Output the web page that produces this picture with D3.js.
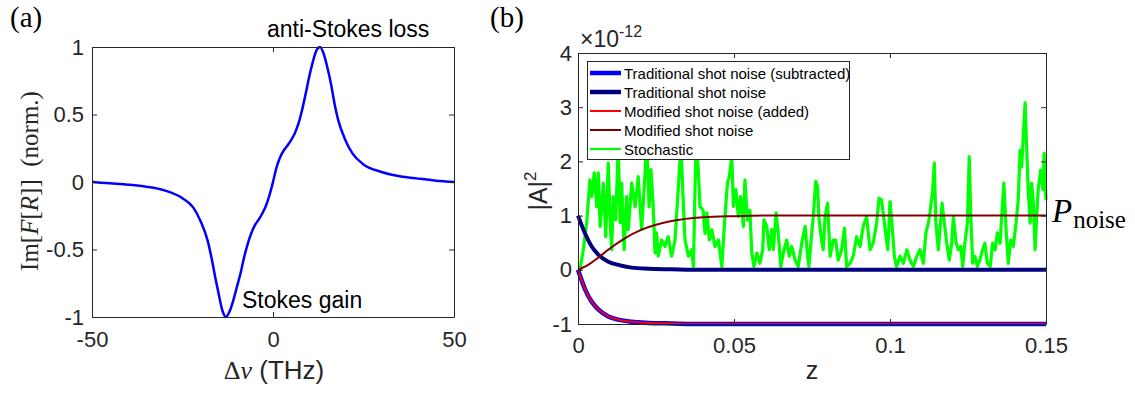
<!DOCTYPE html>
<html>
<head>
<meta charset="utf-8">
<script src="https://cdn.jsdelivr.net/npm/d3@7"></script>
<style>
  body { margin: 0; background: #fff; }
  svg { display: block; }
</style>
</head>
<body>
<svg id="fig" width="1135" height="393"></svg>
<script>
// ---- panel (a): Im[F[R]] vs detuning (THz), normalised
const nu = [-50, -45, -40, -35, -30, -25, -22, -20, -18, -17, -16, -15, -14, -13, -12, -11, -10, -9, -8, -7, -6, -5, -4, -3, -2, -1, 0,
  1, 2, 3, 4, 5, 6, 7, 8, 9, 10, 11, 12, 13, 14, 15, 16, 17, 18, 20, 22, 25, 30, 35, 40, 45, 50];
const imFR = [0, -0.01, -0.02, -0.035, -0.062, -0.12, -0.19, -0.29, -0.44, -0.56, -0.70, -0.83, -0.95, -1, -0.96, -0.88, -0.78, -0.68, -0.56, -0.46, -0.38, -0.32, -0.28, -0.235, -0.18, -0.1, 0,
  0.11, 0.185, 0.235, 0.27, 0.31, 0.36, 0.43, 0.53, 0.65, 0.78, 0.89, 0.975, 1, 0.95, 0.85, 0.73, 0.58, 0.46, 0.31, 0.21, 0.13, 0.074, 0.042, 0.025, 0.01, 0];
const nuTicks = [-50, 0, 50];
const imTicks = [-1, -0.5, 0, 0.5, 1];

// ---- panel (b): |A|^2 vs z, values in units of 1e-12
const zTicks = [0, 0.05, 0.1, 0.15];
const aTicks = [-1, 0, 1, 2, 3, 4];
const legendLabels = ["Traditional shot noise (subtracted)", "Traditional shot noise",
  "Modified shot noise (added)", "Modified shot noise", "Stochastic"];

const zDecay = [0, 0.0022, 0.0044, 0.0065, 0.0097, 0.0129, 0.0172, 0.0225, 0.03, 0.04, 0.05, 0.1, 0.15];
const tradSubtracted = [0, -0.35, -0.59, -0.73, -0.86, -0.92, -0.96, -0.98, -0.99, -1, -1, -1, -1];
const tradNoise = [1, 0.68, 0.43, 0.28, 0.15, 0.09, 0.04, 0.02, 0.01, 0, 0, 0, 0];
const modAdded = [0, -0.35, -0.59, -0.73, -0.86, -0.92, -0.96, -0.98, -0.99, -1, -1, -1, -1];
const zRise = [0, 0.0035, 0.0071, 0.0097, 0.015, 0.0204, 0.03, 0.04, 0.05, 0.06, 0.1, 0.15];
const modNoise = [0, 0.1, 0.25, 0.37, 0.58, 0.74, 0.9, 0.97, 0.99, 1, 1, 1];

const zStoch = [0, 0.0006, 0.0017, 0.0028, 0.0038, 0.0044, 0.0052, 0.0060, 0.0065, 0.0071, 0.0081,
  0.0089, 0.0097, 0.0103, 0.0108, 0.0113, 0.0121, 0.0129, 0.0135, 0.0140, 0.0148,
  0.0156, 0.0161, 0.0172, 0.0183, 0.0193, 0.0204, 0.0215, 0.0220, 0.0228, 0.0234,
  0.0241, 0.0247, 0.0252, 0.0257, 0.0268, 0.0279, 0.0289, 0.0300, 0.0311, 0.0321,
  0.0330, 0.0338, 0.0343, 0.0354, 0.0364, 0.0370,
  0.0378, 0.0385, 0.0391, 0.0401, 0.0407, 0.0413, 0.0421, 0.0429, 0.0439, 0.0450,
  0.0461, 0.0471, 0.0479, 0.0485, 0.0493, 0.0498, 0.0506, 0.0514, 0.0521, 0.0530,
  0.0535, 0.0543, 0.0551, 0.0557, 0.0564, 0.0573, 0.0583, 0.0592, 0.0596, 0.0605,
  0.0613, 0.0621, 0.0626, 0.0635, 0.0642, 0.0650, 0.0658, 0.0669, 0.0677, 0.0685,
  0.0696, 0.0706, 0.0717, 0.0728, 0.0735,
  0.0740, 0.0749, 0.0754, 0.0762, 0.0768, 0.0772, 0.0779, 0.0786, 0.0792, 0.0800,
  0.0808, 0.0818, 0.0826, 0.0834, 0.0845, 0.0854, 0.0861, 0.0872, 0.0882, 0.0893,
  0.0904, 0.0914, 0.0925, 0.0936, 0.0946, 0.0957, 0.0965, 0.0973, 0.0982, 0.0993,
  0.1000, 0.1007, 0.1014, 0.1021, 0.1032, 0.1043, 0.1054, 0.1064, 0.1075, 0.1086, 0.1096,
  0.1107, 0.1115, 0.1123, 0.1128, 0.1137, 0.1142, 0.1147, 0.1155, 0.1160, 0.1167,
  0.1173, 0.1182, 0.1190, 0.1198, 0.1203, 0.1212, 0.1219, 0.1227, 0.1233, 0.1240,
  0.1248, 0.1254, 0.1259, 0.1265, 0.1272, 0.1280, 0.1288, 0.1297, 0.1304, 0.1312,
  0.1321, 0.1329, 0.1337, 0.1344, 0.1353, 0.1358, 0.1365, 0.1372, 0.1379, 0.1387,
  0.1395, 0.1404, 0.1411, 0.1417, 0.1422, 0.1427, 0.1433, 0.1438, 0.1443, 0.1449,
  0.1454, 0.1459, 0.1465, 0.1470, 0.1475, 0.1483, 0.1490, 0.1494, 0.1500];
const stoch = [0, 0, 0.37, 0.87, 1.66, 1.35, 1.79, 1.16, 1.79, 0.80, 1.60,
  0.61, 1.97, 0.87, 0.37, 1.35, 0.92, 2.3, 0.87, 1.60, 0.37,
  1.35, 0.74, 1.60, 1.16, 1.72, 0.74, 1.79, 2.4, 1.16, 1.85,
  1.16, 0.31, 0.68, 0.25, 0.55, 0.43, 0.61, 0.25, 0.55, 1.47,
  2.3, 1.16, 0.55, 0.25, 0.37, 0.06,
  2.3, 1.9, 1.17, 1.1, 0.67, 1.05, 0.55, 0.74, 0.43, 0.55,
  0.06, 0.98, 1.6, 1.72, 2.1, 1.17, 1.48, 0.98, 1.35, 0.8,
  1.66, 0.92, 1.1, 0.31, 0.06, 0.31, 0.12, 0.37, 0.92, 0.8,
  0.37, 0.74, 0.37, 1.05, 0.67, 0.06, 0.31, 0.55, 0.25, 0.43,
  0.18, 0.06, 0.49, 0.8, 0.31,
  0.06, 0.67, 0.98, 1.63, 1.54, 0.98, 0.61, 0.37, 0.98, 1.23,
  0.25, 0.55, 0.55, 0.18, 0.37, 0.77, 0.06, 0.12, 0.25, 0.61,
  0.43, 0.8, 0.98, 0.37, 0.49, 0.86, 1.32, 1.29, 0.86, 0.37,
  1.26, 0.8, 0.25, 0.06, 0.25, 0.12, 0.37, 0.18, 0.06, 0.25, 0.37,
  0.12, 0.68, 0.86, 1.05, 1.48, 1.97, 0.86, 0.37, 0.74, 1.23,
  0.92, 0.49, 0.18, 0.49, 0.98, 0.49, 0.37, 0.43, 0.06, 0.49,
  0.86, 2.09, 0.98, 0.12, 0.25, 0.06, 0.18, 0.37, 0.49, 0.12,
  0.06, 0.49, 0.37, 0.68, 0.49, 0.98, 1.6, 0.74, 0.12, 0.55,
  0.43, 0.86, 1.29, 2.21, 1.9, 2.46, 3.08, 2.27, 1.48, 0.86,
  1.6, 1.29, 0.37, 0.98, 1.48, 1.84, 1.48, 2.15, 1.29];

const SANS = "'Liberation Sans', Arial, sans-serif";
const SERIF = "'Liberation Serif', 'Times New Roman', serif";
const AX = "#262626";

const svg = d3.select("#fig");
svg.append("rect").attr("width", 1135).attr("height", 393).attr("fill", "#fff");

const zip = (xs, ys) => xs.map((x, i) => [x, ys[i]]);

function drawBox(x, y, xt, yt, xPad, yPad) {
  const g = svg.append("g");
  const [x0, x1] = x.range(), [y0, y1] = y.range();
  const fmt = d => String(d);
  const style = sel => {
    sel.attr("font-family", SANS).attr("font-size", 22).attr("color", AX);
    sel.select(".domain").attr("stroke-width", 1);
  };
  g.append("g").attr("transform", `translate(0,${y0})`)
    .call(d3.axisBottom(x).tickValues(xt).tickFormat(fmt).tickSizeInner(-5).tickSizeOuter(0).tickPadding(xPad)).call(style);
  g.append("g").attr("transform", `translate(0,${y1})`)
    .call(d3.axisTop(x).tickValues(xt).tickFormat("").tickSizeInner(-5).tickSizeOuter(0)).call(style);
  g.append("g").attr("transform", `translate(${x0},0)`)
    .call(d3.axisLeft(y).tickValues(yt).tickFormat(fmt).tickSizeInner(-5).tickSizeOuter(0).tickPadding(yPad)).call(style);
  g.append("g").attr("transform", `translate(${x1},0)`)
    .call(d3.axisRight(y).tickValues(yt).tickFormat("").tickSizeInner(-5).tickSizeOuter(0)).call(style);
  return g;
}

// ---------- (a)
const xa = d3.scaleLinear([-50, 50], [92, 454]);
const ya = d3.scaleLinear([-1, 1], [317, 47]);

svg.append("path")
  .datum(zip(nu, imFR))
  .attr("fill", "none")
  .attr("stroke", "#0000ff")
  .attr("stroke-width", 2.5)
  .attr("d", d3.line().x(d => xa(d[0])).y(d => ya(d[1])).curve(d3.curveMonotoneX));

drawBox(xa, ya, nuTicks, imTicks, 14, 8);

svg.append("text").attr("x", 10).attr("y", 27)
  .attr("font-family", SERIF).attr("font-size", 29).attr("fill", "#000").text("(a)");
svg.append("text").attr("x", 267).attr("y", 37)
  .attr("font-family", SANS).attr("font-size", 23).attr("fill", "#000").text("anti-Stokes loss");
svg.append("text").attr("x", 242).attr("y", 308)
  .attr("font-family", SANS).attr("font-size", 23).attr("fill", "#000").text("Stokes gain");

const xlabA = svg.append("text").attr("x", 274).attr("y", 379).attr("text-anchor", "middle")
  .attr("font-family", SANS).attr("font-size", 26).attr("fill", AX);
xlabA.append("tspan").attr("font-family", SERIF).text("Δ");
xlabA.append("tspan").attr("font-family", SERIF).attr("font-style", "italic").text("ν");
xlabA.append("tspan").text(" (THz)");

const ylabA = svg.append("text").attr("transform", "translate(38,181) rotate(-90)")
  .attr("text-anchor", "middle").attr("font-family", SERIF).attr("font-size", 25).attr("fill", AX);
ylabA.append("tspan").text("Im[");
ylabA.append("tspan").attr("font-style", "italic").text("F");
ylabA.append("tspan").text("[");
ylabA.append("tspan").attr("font-style", "italic").text("R");
ylabA.append("tspan").attr("xml:space", "preserve").text("]]  (norm.)");

// ---------- (b)
const xb = d3.scaleLinear([0, 0.15], [578, 1046]);
const yb = d3.scaleLinear([-1, 4], [324, 53]);
const lineB = d3.line().x(d => xb(d[0])).y(d => yb(d[1]));
const smooth = d3.line().x(d => xb(d[0])).y(d => yb(d[1])).curve(d3.curveMonotoneX);

const series = [
  { data: zip(zDecay, tradSubtracted), color: "#0000ff", w: 4.5, lw: 4.5, gen: smooth },
  { data: zip(zDecay, tradNoise), color: "#000080", w: 4, lw: 4.5, gen: smooth },
  { data: zip(zDecay, modAdded), color: "#ff0000", w: 2, lw: 2, gen: smooth },
  { data: zip(zRise, modNoise), color: "#800000", w: 2, lw: 2, gen: smooth },
  { data: zip(zStoch, stoch), color: "#00ff00", w: 3.2, lw: 2.2, gen: lineB }
];

// stochastic trace sits underneath the analytic curves
const drawOrder = [4, 0, 1, 2, 3];
drawOrder.forEach(i => {
  const s = series[i];
  svg.append("path").datum(s.data)
    .attr("fill", "none").attr("stroke", s.color).attr("stroke-width", s.w)
    .attr("stroke-linejoin", "round")
    .attr("d", s.gen);
});

drawBox(xb, yb, zTicks, aTicks, 13, 6);

svg.append("text").attr("x", 490).attr("y", 27)
  .attr("font-family", SERIF).attr("font-size", 29).attr("fill", "#000").text("(b)");

const exp = svg.append("text").attr("x", 580).attr("y", 47)
  .attr("font-family", SANS).attr("font-size", 23).attr("fill", AX);
exp.append("tspan").text("×10");
exp.append("tspan").attr("font-size", 16).attr("dy", -10).text("-12");

svg.append("text").attr("x", 812).attr("y", 379).attr("text-anchor", "middle")
  .attr("font-family", SANS).attr("font-size", 25).attr("fill", AX).text("z");

const ylabB = svg.append("text").attr("transform", "translate(547,191) rotate(-90)")
  .attr("text-anchor", "middle").attr("font-family", SANS).attr("font-size", 25).attr("fill", AX);
ylabB.append("tspan").text("|A|");
ylabB.append("tspan").attr("font-size", 17).attr("dy", -11).text("2");

const pn = svg.append("text").attr("x", 1052).attr("y", 222)
  .attr("font-family", SERIF).attr("fill", "#000");
pn.append("tspan").attr("font-size", 33).attr("font-style", "italic").text("P");
pn.append("tspan").attr("font-size", 25).attr("dx", 1).attr("dy", 6).text("noise");

// legend
const leg = svg.append("g");
leg.append("rect").attr("x", 587.5).attr("y", 61.5).attr("width", 262).attr("height", 98)
  .attr("fill", "#fff").attr("stroke", AX).attr("stroke-width", 1);
legendLabels.forEach((lab, i) => {
  const yy = 73 + i * 19;
  leg.append("line").attr("x1", 590).attr("x2", 621).attr("y1", yy).attr("y2", yy)
    .attr("stroke", series[i].color).attr("stroke-width", series[i].lw);
  leg.append("text").attr("x", 624).attr("y", yy + 5.5)
    .attr("font-family", SANS).attr("font-size", 15).attr("fill", "#000").text(lab);
});
</script>
</body>
</html>
